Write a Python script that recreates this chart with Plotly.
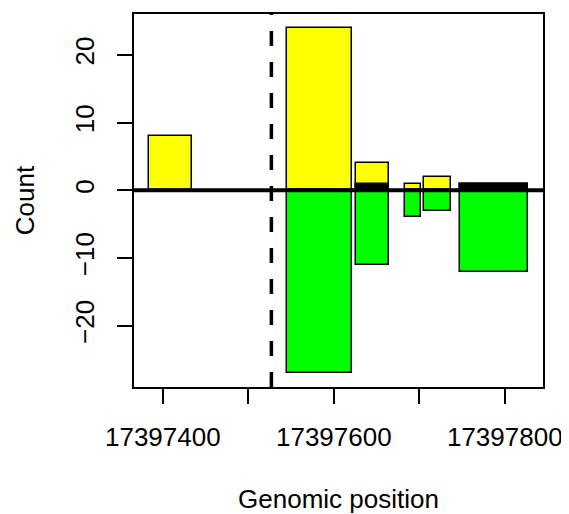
import plotly.graph_objects as go

# Data
bin_start = [17397384, 17397545, 17397626, 17397683, 17397706, 17397748]
bin_end = [17397434, 17397621, 17397665, 17397702, 17397737, 17397827]
plus_counts = [8, 24, 4, 1, 2, 1]
both_counts = [None, None, 1, None, None, 1]
minus_counts = [None, -27, -11, -4, -3, -12]
site_position = 17397527
x_tick_vals = [17397400, 17397500, 17397600, 17397700, 17397800]
x_tick_text = ["17397400", "", "17397600", "", "17397800"]
y_tick_vals = [-20, -10, 0, 10, 20]

centers = [(a + b) / 2 for a, b in zip(bin_start, bin_end)]
widths = [b - a for a, b in zip(bin_start, bin_end)]

FONT = "Liberation Sans, Arial, Helvetica, sans-serif"
outline = dict(color="black", width=1.5)

fig = go.Figure()
fig.add_trace(go.Bar(x=centers, y=plus_counts, width=widths, base=0,
                     marker=dict(color="#FFFF00", line=outline), showlegend=False))
fig.add_trace(go.Bar(x=centers, y=minus_counts, width=widths, base=0,
                     marker=dict(color="#00FF00", line=outline), showlegend=False))
fig.add_trace(go.Bar(x=centers, y=both_counts, width=widths, base=0,
                     marker=dict(color="black", line=outline), showlegend=False))

fig.add_shape(type="line", xref="x", yref="y domain", x0=site_position, x1=site_position,
              y0=0, y1=1, line=dict(color="black", width=3.5, dash="15px,16px"), layer="above")
fig.add_shape(type="line", xref="x domain", yref="y", x0=0, x1=1, y0=0, y1=0,
              line=dict(color="black", width=4), layer="above")

lo, hi = min(bin_start), max(bin_end)
xpad = (hi - lo) * 0.04
ylo, yhi = min(v for v in minus_counts if v is not None), max(plus_counts)
ypad = (yhi - ylo) * 0.04

fig.update_layout(
    width=561, height=506,
    margin=dict(l=126, r=26, t=4, b=126),
    paper_bgcolor="white", plot_bgcolor="white",
    barmode="overlay", bargap=0,
    font=dict(family=FONT, size=26, color="black"),
)
fig.update_xaxes(
    range=[lo - xpad, hi + xpad], tickmode="array", tickvals=x_tick_vals, ticktext=x_tick_text,
    ticks="outside", ticklen=15, tickwidth=1.5, tickcolor="black",
    showline=True, linecolor="black", linewidth=1.5, mirror=True, showgrid=False, zeroline=False,
    ticklabelstandoff=11,
    title=dict(text="Genomic position", font=dict(size=26), standoff=40),
)
fig.update_yaxes(
    range=[ylo - ypad, yhi + ypad], tickmode="array", tickvals=y_tick_vals,
    ticks="outside", ticklen=15, tickwidth=1.5, tickcolor="black", tickangle=-90,
    showline=True, linecolor="black", linewidth=1.5, mirror=True, showgrid=False, zeroline=False,
    ticklabelstandoff=13,
    title=dict(text="Count", font=dict(size=26), standoff=28),
)

fig.write_html("out.html")
